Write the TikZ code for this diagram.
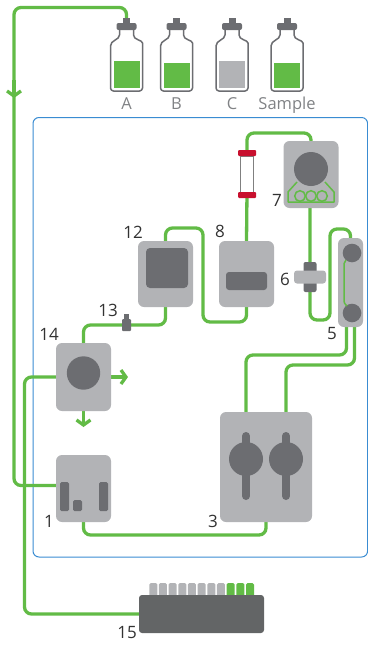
\documentclass[tikz,border=0pt]{standalone}
\usepackage{fontspec}
\setmainfont{Open Sans}
\usetikzlibrary{arrows.meta}
\usetikzlibrary{backgrounds}
\definecolor{tubegreen}{RGB}{98,187,70}
\definecolor{devgray}{RGB}{178,179,182}
\definecolor{knobgray}{RGB}{108,109,113}
\definecolor{trayblack}{RGB}{99,101,102}
\definecolor{frameblue}{RGB}{58,140,210}
\definecolor{labelgray}{RGB}{128,130,133}
\definecolor{numblack}{RGB}{50,50,50}
\definecolor{capred}{RGB}{200,16,46}
\tikzset{tube/.style={draw=tubegreen, line width=3.3pt, rounded corners=7pt},
device/.style={fill=devgray, rounded corners=6pt, inner sep=0pt, outer sep=0pt},
knob/.style={fill=knobgray, inner sep=0pt, outer sep=0pt},
glass/.style={draw=knobgray, line width=1.5pt, line join=round},
num/.style={text=numblack, font=\fontsize{17}{17}\selectfont, inner sep=0pt},
bottlelabel/.style={text=labelgray, font=\fontsize{16.5}{16.5}\selectfont, inner sep=0pt},
%chevron tip on the tubes
barb/.style={-{Straight Barb[length=5pt,width=14pt]}}}

\begin{document}
\begin{tikzpicture}[x=1pt,y=-1pt]
\useasboundingbox (0,0) rectangle (367,645);

% bottles
\foreach \x/\lvl/\liq/\txt in {126.5/61/tubegreen/A, 176.5/63/tubegreen/B, 232/61/devgray/C, 287/63/tubegreen/Sample}{
  \fill[\liq] (\x-13,\lvl) rectangle (\x+13,88);
  \draw[glass] (\x-7,29) -- (\x-7,35) .. controls (\x-7,40) and (\x-16,40) .. (\x-16,46)
     [rounded corners=3pt] -- (\x-16,91) -- (\x+16,91) -- (\x+16,46)
     [sharp corners] .. controls (\x+16,40) and (\x+7,40) .. (\x+7,35) -- (\x+7,29);
  \fill[knobgray] (\x-3.5,18) rectangle (\x+3.5,24);
  \fill[knobgray, rounded corners=2pt] (\x-10,23) rectangle (\x+10,30);
  \node[bottlelabel, anchor=base] (lbl\txt) at (\x,109) {\txt};
}
\coordinate (capA) at (126.5,19);

% modules
\node[device, minimum width=55pt, minimum height=67pt] (d1) at (83.5,488.5) {};
\node[device, minimum width=92pt, minimum height=110pt] (d3) at (266,467) {};
\node[device, minimum width=25pt, minimum height=89pt] (d5) at (350.5,282.5) {};
\node[device, minimum width=55pt, minimum height=67pt] (d7) at (311,174.5) {};
\node[device, minimum width=55pt, minimum height=66pt] (d8) at (246.5,274) {};
\node[device, minimum width=55pt, minimum height=66pt] (d12) at (165.5,274) {};
\node[device, minimum width=55pt, minimum height=68pt] (d14) at (83.5,377) {};

% valve and column
\node[knob, rounded corners=2pt, minimum width=13pt, minimum height=30pt] (v6) at (310,277) {};
\node[device, rounded corners=3pt, minimum width=32pt, minimum height=13pt] (v6bar) at (310,277) {};
\node[draw=gray, line width=0.8pt, fill=white, inner sep=0pt, minimum width=13pt, minimum height=36pt] (col) at (247,174) {};
\fill[capred, rounded corners=1pt] (238,150) rectangle (256,156);
\fill[capred, rounded corners=1pt] (238,192) rectangle (256,198);

% fitting
\fill[knobgray] (124,314) rectangle (129,320);
\node[knob, rounded corners=1pt, minimum width=9pt, minimum height=12pt] (f13) at (126.5,325) {};

% fraction collector
\foreach \i in {0,...,10}{
  \ifnum\i<8 \def\tabcol{devgray}\else\def\tabcol{tubegreen}\fi
  \fill[\tabcol, rounded corners=1.5pt] (149.3+9.67*\i,583) rectangle ++(8,14);
}
\node[fill=trayblack, rounded corners=3pt, inner sep=0pt, minimum width=125pt, minimum height=38pt] (d15) at (201.5,614) {};

% details
\fill[knobgray] (83.5,373) circle (16.7pt);
\fill[knobgray, rounded corners=4pt] (146,248) rectangle (188,288);
\fill[knobgray, rounded corners=3pt] (226,272) rectangle (267,290);
\draw[tubegreen, line width=1.5pt, line join=round] (297,182) -- (288,192) -- (288,202) -- (334,202) -- (334,192) -- (325,182);
\foreach \rx in {300,311,322}
  \draw[tubegreen, line width=1.5pt] (\rx,196) circle (5.3pt);
\fill[knobgray] (311,169) circle (17pt);
\fill[knobgray] (352,253) circle (9.3pt);
\fill[knobgray] (352,313) circle (9.3pt);
\draw[tubegreen, line width=1.5pt] (346,260) .. controls (344,263) .. (344,268) -- (344,298) .. controls (344,303) .. (347,306);
\foreach \px in {246,286}{
  \fill[knobgray] (\px,459) circle (17pt);
  \draw[knobgray, line width=8pt, line cap=round] (\px,436) -- (\px,496);
}
\fill[knobgray, rounded corners=1.5pt] (60,482) rectangle (69,511);
\fill[knobgray, rounded corners=1.5pt] (73,500) rectangle (82,511);
\fill[knobgray, rounded corners=1.5pt] (99,482) rectangle (108,511);

%labels
\node[num] (n1) at (49,521) {1};
\node[num] (n3) at (213,521) {3};
\node[num] (n5) at (332,333.5) {5};
\node[num] (n6) at (285,279) {6};
\node[num] (n7) at (277,200) {7};
\node[num] (n8) at (220,231.5) {8};
\node[num] (n12) at (133,232) {12};
\node[num] (n13) at (108,310.5) {13};
\node[num] (n14) at (49,334) {14};
\node[num] (n15) at (127,632.5) {15};

% tubing
\begin{scope}[on background layer]
\draw[frameblue, line width=1pt, rounded corners=6pt] (33,117.5) rectangle (367.6,557);
\draw[tube] (capA) |- (14,7.5) |- ([yshift=3pt]d1.west);
\draw[tube] (d14.west) -| (24.5,614) -- (d15.west);
\draw[tube] (d14.north) |- (f13) -| (d12.south);
\draw[tube] (d12.north) |- (203,228) -- (203,322) -| (d8.south);
\draw[tube] (d8.north) -- (col.south);
\draw[tube] (col.north) |- (311,133) -- (d7.north);
\draw[tube] (v6 |- d7.south) -- (310,320) -| (330,229) -| (d5.north);
\draw[tube] ([xshift=-4pt]d5.south) -- ++(0,28) -| ([xshift=-20pt]d3.north);
\draw[tube] ([xshift=4pt]d5.south) -- ++(0,38) -| ([xshift=20pt]d3.north);
\draw[tube] (d3.south) -- ++(0,13) -| (d1.south);
\draw[tube, barb] (d14.east) -- ++(17,0);
\draw[tube, barb] (d14.south) -- ++(0,16);
\draw[tube, barb] (14,80) -- (14,98);
\end{scope}
\end{tikzpicture}
\end{document}
